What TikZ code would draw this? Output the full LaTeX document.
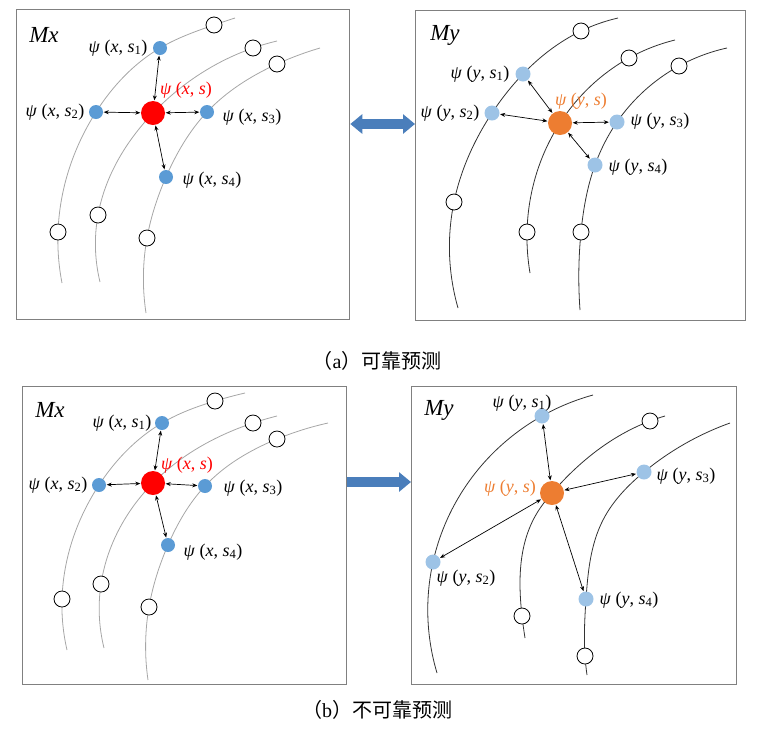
\documentclass[tikz,border=0pt]{standalone}
\usepackage{fontspec}
\setmainfont{Liberation Serif}
\newfontfamily\tnr{Liberation Serif}
\newfontfamily\cjk{Noto Sans CJK SC}
\usetikzlibrary{arrows.meta,hobby}
\definecolor{nblue}{RGB}{91,155,213}
\definecolor{lblue}{RGB}{157,195,230}
\definecolor{norange}{RGB}{237,125,49}
\definecolor{bigblue}{RGB}{74,126,187}
\definecolor{framegray}{RGB}{128,128,128}
\newcommand{\pl}[2]{\textit{ψ} (\textit{#1}, \textit{s}\textsubscript{#2})}
\newcommand{\pc}[1]{\textit{ψ} (\textit{#1}, \textit{s})}
\begin{document}
\begin{tikzpicture}[x=1pt,y=-1pt,
  frame/.style={draw=framegray,line width=1.3pt,rectangle,anchor=north west,inner sep=0pt},
  curvel/.style={draw=black!35,line width=0.8pt,use Hobby shortcut},
  curved/.style={draw=black!80,line width=0.8pt,use Hobby shortcut},
  wnode/.style={circle,draw=black,fill=white,line width=0.8pt,minimum size=16pt,inner sep=0pt},
  bnode/.style={circle,fill=nblue,minimum size=14pt,inner sep=0pt},
  lbnode/.style={circle,fill=lblue,minimum size=15pt,inner sep=0pt},
  rnode/.style={circle,fill=red,minimum size=24pt,inner sep=0pt},
  onode/.style={circle,fill=norange,minimum size=24pt,inner sep=0pt},
  link/.style={{Stealth[length=5pt,width=4pt]}-{Stealth[length=5pt,width=4pt]},line width=0.7pt,shorten <=0.5pt,shorten >=0.5pt},
  lab/.style={font=\tnr\fontsize{18}{20}\selectfont,inner sep=0pt},
  mlab/.style={font=\tnr\fontsize{23}{26}\selectfont\itshape,inner sep=0pt},
  captext/.style={font=\fontsize{20}{22}\selectfont\cjk,inner sep=0pt},
  bigarrow/.style={draw=bigblue,line width=10pt}
]
\useasboundingbox (0,0) rectangle (762,732);

% frames
\node[frame,minimum width=333pt,minimum height=310pt] (A1) at (16,9) {};
\node[frame,minimum width=330pt,minimum height=310pt] (A2) at (415,10) {};
\node[frame,minimum width=324pt,minimum height=298pt] (B1) at (22,386) {};
\node[frame,minimum width=325pt,minimum height=298pt] (B2) at (411,386) {};

% big arrows
\coordinate (ya) at (0,124);
\coordinate (yb) at (0,482);
\draw[bigarrow,{Triangle[length=12pt,width=19pt]}-{Triangle[length=12pt,width=19pt]}] (A1.east |- ya) -- (A2.west |- ya);
\draw[bigarrow,-{Triangle[length=12pt,width=19pt]}] (B1.east |- yb) -- (B2.west |- yb);

% ---------- panel a left ----------
\draw[curvel] (62,283) .. (58,232) .. (96,112) .. (160,48) .. (214,25) .. (235,18);
\draw[curvel] (100,282) .. (98,215) .. (153,113) .. (253,48) .. (277,41);
\draw[curvel] (146,313) .. (147,238) .. (166,177) .. (207,112) .. (277,64) .. (320,48);
\foreach \p [count=\i] in {(214,25),(253,48),(277,64),(58,232),(98,215),(147,238)}
  \node[wnode] (aw\i) at \p {};
\node[rnode] (ac) at (153,113) {};
\node[bnode] (a1) at (160,48) {};
\node[bnode] (a2) at (96,112) {};
\node[bnode] (a3) at (207,112) {};
\node[bnode] (a4) at (166,177) {};
\foreach \k in {1,2,3,4} \draw[link] (ac) -- (a\k);
\node[mlab] (amx) at (44,35) {Mx};
\node[lab] (la1) at (118,48) {\pl{x}{1}};
\node[lab,text=red] (lac) at (186,90) {\pc{x}};
\node[lab] (la2) at (55,112) {\pl{x}{2}};
\node[lab] (la3) at (252,117) {\pl{x}{3}};
\node[lab] (la4) at (212,180) {\pl{x}{4}};

% ---------- panel a right ----------
\draw[curved] (458,308) .. (454,202) .. (492,113) .. (523,74) .. (581,31) .. (618,18);
\draw[curved] (530,273) .. (527,232) .. (560,123) .. (629,58) .. (675,40);
\draw[curved] (580,310) .. (581,232) .. (595,165) .. (617,122) .. (679,66) .. (727,48);
\foreach \p [count=\i] in {(581,31),(629,58),(679,66),(454,202),(527,232),(581,232)}
  \node[wnode] (bw\i) at \p {};
\node[onode] (bc) at (560,123) {};
\node[lbnode] (b1) at (523,74) {};
\node[lbnode] (b2) at (492,113) {};
\node[lbnode] (b3) at (617,122) {};
\node[lbnode] (b4) at (595,165) {};
\foreach \k in {1,2,3,4} \draw[link] (bc) -- (b\k);
\node[mlab] (bmy) at (445,35) {My};
\node[lab] (lb1) at (480,74) {\pl{y}{1}};
\node[lab,text=norange] (lbc) at (581,101) {\pc{y}};
\node[lab] (lb2) at (450,113) {\pl{y}{2}};
\node[lab] (lb3) at (660,121) {\pl{y}{3}};
\node[lab] (lb4) at (638,167) {\pl{y}{4}};

\node[captext] (capa) at (377,361) {（{\tnr a}）可靠预测};

% ---------- panel b left ----------
\draw[curvel] (67,650) .. (62,599) .. (99,485) .. (162,423) .. (215,401) .. (245,393);
\draw[curvel] (104,648) .. (101,584) .. (153,483) .. (253,423) .. (277,416);
\draw[curvel] (148,680) .. (149,607) .. (168,545) .. (205,486) .. (277,439) .. (328,423);
\foreach \p [count=\i] in {(215,401),(253,423),(277,439),(62,599),(101,584),(149,607)}
  \node[wnode] (cw\i) at \p {};
\node[rnode] (cc) at (153,483) {};
\node[bnode] (c1) at (162,423) {};
\node[bnode] (c2) at (99,485) {};
\node[bnode] (c3) at (205,486) {};
\node[bnode] (c4) at (168,545) {};
\foreach \k in {1,2,3,4} \draw[link] (cc) -- (c\k);
\node[mlab] (cmx) at (50,410) {Mx};
\node[lab] (lc1) at (122,423) {\pl{x}{1}};
\node[lab,text=red] (lcc) at (187,465) {\pc{x}};
\node[lab] (lc2) at (58,485) {\pl{x}{2}};
\node[lab] (lc3) at (253,488) {\pl{x}{3}};
\node[lab] (lc4) at (213,552) {\pl{x}{4}};

% ---------- panel b right ----------
\draw[curved] (437,673) .. (433,562) .. (470,480) .. (542,416) .. (593,395);
\draw[curved] (525,638) .. (522,616) .. (537,513) .. (552,493) .. (650,421) .. (665,416);
\draw[curved] (587,675) .. (585,656) .. (586,599) .. (603,520) .. (644,472) .. (730,423);
\foreach \p [count=\i] in {(650,421),(522,616),(585,656)}
  \node[wnode] (dw\i) at \p {};
\node[onode] (dc) at (552,493) {};
\node[lbnode] (d1) at (542,416) {};
\node[lbnode] (d2) at (433,562) {};
\node[lbnode] (d3) at (644,472) {};
\node[lbnode] (d4) at (586,599) {};
\foreach \k in {1,2,3,4} \draw[link] (dc) -- (d\k);
\node[mlab] (dmy) at (439,410) {My};
\node[lab] (ld1) at (522,403) {\pl{y}{1}};
\node[lab,text=norange] (ldc) at (510,488) {\pc{y}};
\node[lab] (ld2) at (466,578) {\pl{y}{2}};
\node[lab] (ld3) at (686,476) {\pl{y}{3}};
\node[lab] (ld4) at (629,600) {\pl{y}{4}};

\node[captext] (capb) at (377,710) {（{\tnr b}）不可靠预测};
\end{tikzpicture}
\end{document}
